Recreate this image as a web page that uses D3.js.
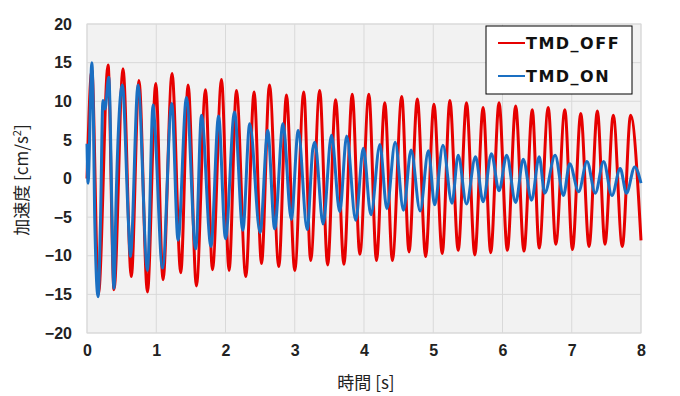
<!DOCTYPE html>
<html>
<head>
<meta charset="utf-8">
<script src="https://cdn.jsdelivr.net/npm/d3@7"></script>
<style>
  body { margin: 0; background: #fff; }
  svg { display: block; }
</style>
</head>
<body>
<svg width="680" height="396"></svg>
<script>
// TMD_OFF : peaks / troughs
const redTime = [0, 0.07, 0.165, 0.304, 0.39, 0.52, 0.64, 0.75, 0.873, 0.993, 1.098, 1.228,
  1.354, 1.46, 1.58, 1.711, 1.812, 1.942, 2.052, 2.158, 2.293, 2.413, 2.52, 2.635,
  2.77, 2.88, 3.0, 3.13, 3.23, 3.36, 3.475, 3.59, 3.71, 3.83, 3.94,
  4.07, 4.18, 4.30, 4.41, 4.545, 4.65, 4.77, 4.89, 5.01, 5.13,
  5.24, 5.36, 5.48, 5.60, 5.72, 5.83, 5.95, 6.07, 6.19, 6.31, 6.43, 6.53,
  6.66, 6.77, 6.90, 7.01, 7.13, 7.25, 7.37, 7.48, 7.60, 7.73, 7.85, 8.0];
const redAccel = [0, 14, -15, 14.7, -14.4, 14.2, -12.7, 12.7, -14.7, 12.3, -13.1, 13.6,
  -12.2, 12.1, -13.9, 11.5, -11.8, 12.8, -11.9, 11.4, -12.7, 11.2, -11.0, 12.1,
  -11.4, 10.8, -11.9, 11.2, -10.6, 11.4, -11.2, 10.2, -11.1, 10.9, -9.8,
  10.9, -10.6, 9.8, -10.6, 10.6, -9.5, 10.3, -10.1, 9.6, -9.7,
  10.1, -9.3, 9.8, -9.9, 9.2, -9.6, 9.8, -9.3, 9.4, -9.4, 8.9, -9.0,
  9.2, -8.5, 8.9, -9.2, 8.4, -8.8, 8.75, -8.5, 8.2, -8.8, 8.2, -8.0];

// TMD_ON
const blueTime = [0, 0.015, 0.07, 0.095, 0.11, 0.16, 0.195, 0.23, 0.26, 0.314, 0.39, 0.42,
  0.51, 0.60, 0.627, 0.737, 0.873, 0.954, 0.975, 1.09, 1.224, 1.315, 1.436, 1.57,
  1.653, 1.79, 1.90, 2.0, 2.13, 2.25, 2.35, 2.50, 2.61, 2.71, 2.83, 2.95, 3.05,
  3.18, 3.26, 3.29, 3.41, 3.53, 3.65, 3.75, 3.88, 3.99, 4.10, 4.23, 4.33, 4.45,
  4.57, 4.68, 4.81, 4.93, 5.02, 5.14, 5.27, 5.36, 5.48, 5.61, 5.72, 5.84, 5.95,
  6.06, 6.19, 6.30, 6.42, 6.53, 6.61, 6.76, 6.88, 6.97, 7.10, 7.22, 7.34, 7.46,
  7.58, 7.70, 7.79, 7.91, 8.0];
const blueAccel = [4.5, -0.6, 15.0, 6.5, -4.5, -15.3, -5.4, 10.1, 9.0, 13.1, -14.2, -2.8,
  12.1, -6.0, -10.1, 12.1, -11.9, 9.5, 7.5, -11.6, 9.7, -8.0, 10.5, -9.1,
  8.2, -8.8, 8.1, -7.8, 8.6, -6.7, 7.1, -7.0, 6.2, -6.5, 7.1, -5.3, 6.2,
  -6.6, 3.8, 4.7, -5.9, 5.6, -4.3, 5.5, -5.4, 3.9, -4.7, 4.4, -3.9, 4.7,
  -4.1, 3.7, -4.2, 3.6, -3.4, 4.3, -3.2, 3.0, -3.3, 2.8, -3.0, 3.2, -1.6,
  3.0, -3.1, 2.5, -2.8, 2.8, -1.9, 3.0, -2.2, 1.9, -1.7, 2.2, -1.9, 2.2,
  -2.2, 1.3, -1.9, 1.5, -0.6];

const xTicks = [0, 1, 2, 3, 4, 5, 6, 7, 8];
const yTicks = [-20, -15, -10, -5, 0, 5, 10, 15, 20];
const seriesNames = ["TMD_OFF", "TMD_ON"];
const seriesColors = ["#e60000", "#1a6fc2"];

let svg = d3.select("svg");
let margin = { top: 24, right: 39, bottom: 63, left: 87 };
let width = +svg.attr("width") - margin.left - margin.right;
let height = +svg.attr("height") - margin.top - margin.bottom;

let x = d3.scaleLinear().domain([0, 8]).range([0, width]);
let y = d3.scaleLinear().domain([-20, 20]).range([height, 0]);

let g = svg.append("g").attr("transform", `translate(${margin.left},${margin.top})`);

g.append("rect")
  .attr("width", width)
  .attr("height", height)
  .attr("fill", "#f2f2f2");

// grid
g.append("g")
  .selectAll("line")
  .data(xTicks)
  .enter().append("line")
  .attr("x1", d => x(d)).attr("x2", d => x(d))
  .attr("y1", 0).attr("y2", height)
  .attr("stroke", "#d9d9d9");

g.append("g")
  .selectAll("line")
  .data(yTicks)
  .enter().append("line")
  .attr("y1", d => y(d)).attr("y2", d => y(d))
  .attr("x1", 0).attr("x2", width)
  .attr("stroke", "#d9d9d9");

g.append("rect")
  .attr("width", width)
  .attr("height", height)
  .attr("fill", "none")
  .attr("stroke", "#d9d9d9");

// axes (labels only)
let xAxis = d3.axisBottom(x).tickValues(xTicks).tickSize(0).tickPadding(12);
let yAxis = d3.axisLeft(y).tickValues(yTicks).tickSize(0).tickPadding(15);

let tickFont = "'Liberation Sans', Arial, sans-serif";

g.append("g")
  .attr("transform", `translate(0,${height})`)
  .call(xAxis)
  .call(a => a.select(".domain").remove())
  .selectAll("text")
  .attr("font-family", tickFont)
  .attr("font-size", "16px")
  .attr("font-weight", "bold")
  .attr("fill", "#222");

g.append("g")
  .call(yAxis)
  .call(a => a.select(".domain").remove())
  .selectAll("text")
  .attr("font-family", tickFont)
  .attr("font-size", "16px")
  .attr("font-weight", "bold")
  .attr("fill", "#222");

// lines
let line = d3.line()
  .x(d => x(d[0]))
  .y(d => y(d[1]))
  .curve(d3.curveMonotoneX);

let redData = redTime.map((t, i) => [t, redAccel[i]]);
let blueData = blueTime.map((t, i) => [t, blueAccel[i]]);

let plot = g.append("g");
[redData, blueData].forEach((data, i) => {
  plot.append("path")
    .datum(data)
    .attr("fill", "none")
    .attr("stroke", seriesColors[i])
    .attr("stroke-width", 3)
    .attr("stroke-linejoin", "round")
    .attr("d", line);
});

// axis titles
let cjkFont = "'Noto Sans CJK JP', 'Noto Sans', sans-serif";
svg.append("text")
  .attr("x", margin.left + width / 2 + 2)
  .attr("y", 389)
  .attr("text-anchor", "middle")
  .attr("font-family", cjkFont)
  .attr("font-size", "17px")
  .attr("fill", "#222")
  .text("時間 [s]");

let yTitle = svg.append("text")
  .attr("transform", "translate(28,180) rotate(-90)")
  .attr("text-anchor", "middle")
  .attr("font-family", cjkFont)
  .attr("font-size", "17px")
  .attr("fill", "#222");
yTitle.append("tspan").text("加速度 [cm/s");
yTitle.append("tspan").attr("font-size", "11px").attr("dy", -7).text("2");
yTitle.append("tspan").attr("dy", 7).text("]");

// legend
let legend = svg.append("g").attr("transform", "translate(486,26)");
legend.append("rect")
  .attr("width", 146)
  .attr("height", 68)
  .attr("fill", "#fff")
  .attr("stroke", "#000")
  .attr("stroke-width", 1);

seriesNames.forEach((name, i) => {
  let yy = 17 + i * 33;
  legend.append("line")
    .attr("x1", 12).attr("x2", 39)
    .attr("y1", yy).attr("y2", yy)
    .attr("stroke", seriesColors[i])
    .attr("stroke-width", 2);
  legend.append("text")
    .attr("x", 40)
    .attr("y", yy + 6)
    .attr("font-family", "'DejaVu Sans', Verdana, sans-serif")
    .attr("font-size", "16px")
    .attr("font-weight", "bold")
    .attr("letter-spacing", "1.5px")
    .attr("fill", "#111")
    .text(name);
});
</script>
</body>
</html>
